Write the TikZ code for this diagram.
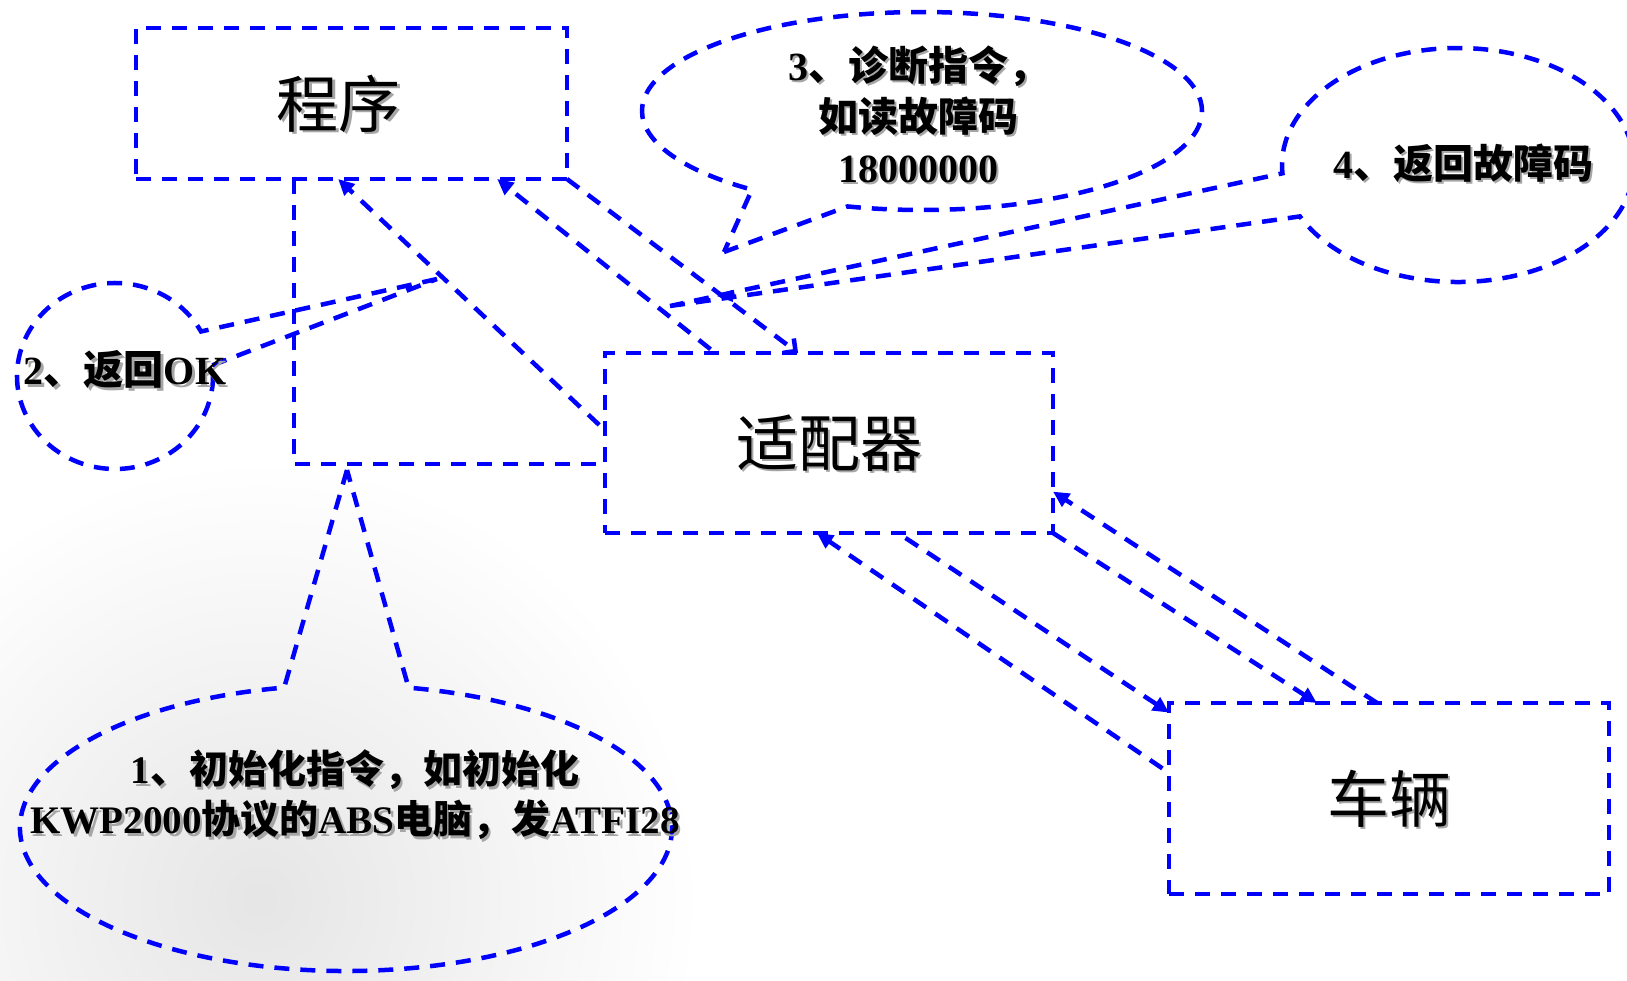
\documentclass[tikz,border=0pt]{standalone}
\usepackage{fontspec}
\setmainfont{Noto Sans CJK SC}
\newfontfamily\lat{Liberation Serif}
\usetikzlibrary{arrows.meta,shapes.callouts,calc}
\definecolor{lineblue}{RGB}{0,0,255}
\newcommand\shd[1]{\leavevmode\rlap{\hspace{2.5pt}\raisebox{-2.5pt}[0pt][0pt]{\color{black!35}#1}}#1}
\begin{document}
\begin{tikzpicture}[x=1pt,y=-1pt,
  dline/.style={draw=lineblue,line width=4.5pt,dash pattern=on 15pt off 11pt},
  mainbox/.style={dline,rectangle,inner sep=0pt,outer sep=0pt,font=\fontsize{62}{62}\selectfont},
  calloutstyle/.style={dline,ellipse callout,inner sep=0pt,outer sep=0pt,callout pointer arc=22},
  arr/.style={dline,-{Triangle[length=16pt,width=15pt]}},
  txt/.style={font=\fontsize{40}{51}\selectfont\bfseries,align=center,inner sep=0pt},
]
\useasboundingbox (0,0) rectangle (1627,980);
\begin{scope}
  \clip (0,0) rectangle (1627,980);
  \shade[inner color=black!10, outer color=white] (260,900) circle[radius=440];
\end{scope}

% main boxes
\node[mainbox,minimum width=431pt,minimum height=151pt] (prog) at (351.5,103.5) {\shd{程序}\kern26pt\relax};
\node[mainbox,minimum width=448pt,minimum height=180pt] (adp) at (829,443) {\shd{适配器}};
\node[mainbox,minimum width=440pt,minimum height=191pt] (veh) at (1389,798.5) {\shd{车辆}};

% leftover rectangle outline
\draw[dline] (294,179) -- (294,464) -- (597,464);

% callout pointer tips
\coordinate (p1) at (347,470);
\coordinate (p2) at (437,279);
\coordinate (p3) at (724,252);
\coordinate (p4) at (670,306);

% callouts
\node[calloutstyle,minimum width=652pt,minimum height=286pt,callout absolute pointer=(p1)] (c1) at (346,828) {};
\node[calloutstyle,minimum width=196pt,minimum height=186pt,callout absolute pointer=(p2)] (c2) at (115,376) {};
\node[calloutstyle,minimum width=560pt,minimum height=198pt,callout absolute pointer=(p3)] (c3) at (922,111) {};
\node[calloutstyle,minimum width=352pt,minimum height=234pt,callout absolute pointer=(p4)] (c4) at (1458,165) {};

% callout texts
\node[txt,font=\fontsize{39}{50}\selectfont\bfseries] (t1) at (355,795) {\shd{{\lat 1}、初始化指令，如初始化}\\\shd{{\lat KWP2000}协议的{\lat ABS}电脑，发{\lat ATFI28}}};
\node[txt] (t2) at (125,370) {\shd{{\lat 2}、返回{\lat OK}}};
\node[txt] (t3) at (918,114) {\shd{{\lat 3}、诊断指令，}\\\shd{如读故障码}\\\shd{{\lat 18000000}}};
\node[txt] (t4) at (1463,163) {\shd{{\lat 4}、返回故障码}};

% connectors program <-> adapter
\draw[arr,shorten <=8pt] ($(adp.north west)!0.43!(adp.south west)$) -- ($(prog.south west)!0.469!(prog.south east)$);
\draw[arr,shorten <=6pt] ($(adp.north west)!0.246!(adp.north east)$) -- ($(prog.south west)!0.838!(prog.south east)$);
\draw[dline,-{Straight Barb[length=9pt,width=18pt]}] (prog.south east) -- ($(adp.north west)!0.431!(adp.north east)$);

% connectors adapter <-> vehicle
\draw[arr,shorten <=9pt] ($(adp.south west)!0.654!(adp.south east)$) -- ($(veh.north west)!0.05!(veh.south west)$);
\draw[arr,shorten <=8pt] ($(veh.north west)!0.366!(veh.south west)$) -- ($(adp.south west)!0.473!(adp.south east)$);
\draw[arr] (adp.south east) -- ($(veh.north west)!0.336!(veh.north east)$);
\draw[arr] ($(veh.north west)!0.473!(veh.north east)$) -- ($(adp.north east)!0.77!(adp.south east)$);

% small stray arrowhead on the callout-4 pointer
\fill[lineblue] (717,296) -- (732,290) -- (733,302) -- cycle;
\end{tikzpicture}
\end{document}
